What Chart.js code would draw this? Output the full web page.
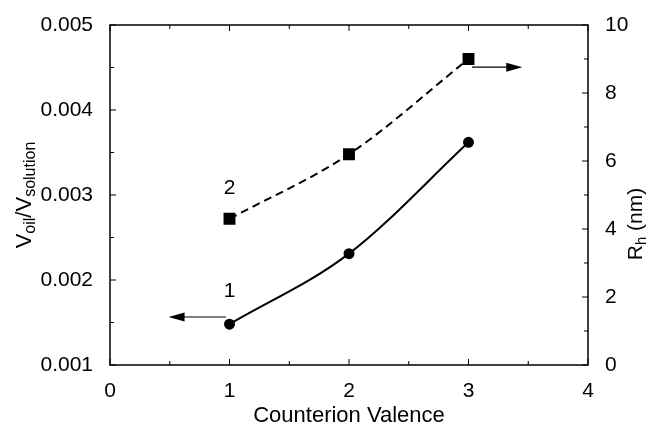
<!DOCTYPE html>
<html>
<head>
<meta charset="utf-8">
<script src="https://cdn.jsdelivr.net/npm/chart.js@4.4.1/dist/chart.umd.min.js"></script>
<style>
  html, body { margin: 0; padding: 0; background: #fff; }
  #wrap { width: 648px; height: 425px; position: relative; }
</style>
</head>
<body>
<div id="wrap"><canvas id="chart"></canvas></div>
<script>
// values
const valence = [1, 2, 3];
const volumeRatio = [0.00148, 0.00231, 0.00362];   // curve 1, left axis
const radiusNm = [4.3, 6.2, 9.0];                   // curve 2, right axis
const xTicks = [0, 1, 2, 3, 4];
const leftTicks = [0.001, 0.002, 0.003, 0.004, 0.005];
const rightTicks = [0, 2, 4, 6, 8, 10];

// annotation arrows/labels in data units
const arrowLeft = { from: 0.97, to: 0.49, y: 0.001565, axis: 'y' };
const arrowRight = { from: 3.03, to: 3.45, y: 8.76, axis: 'y2' };
const curveLabels = [
    { text: '1', x: 1, y: 0.00187, axis: 'y' },
    { text: '2', x: 1, y: 5.2, axis: 'y2' }
];

const FONT = '"Liberation Sans", Arial, Helvetica, sans-serif';
const tickFont = { family: FONT, size: 21 };

function toPts(xs, ys) {
    return xs.map((x, i) => ({ x: x, y: ys[i] }));
}

const framePlugin = {
    id: 'frame',
    afterDraw(chart) {
        const ctx = chart.ctx;
        const a = chart.chartArea;
        const sx = chart.scales.x, sy = chart.scales.y, sy2 = chart.scales.y2;
        ctx.save();
        ctx.strokeStyle = '#000';
        ctx.fillStyle = '#000';
        ctx.lineWidth = 1.5;
        ctx.strokeRect(a.left, a.top, a.right - a.left, a.bottom - a.top);

        // inward ticks
        ctx.lineWidth = 1;
        ctx.beginPath();
        for (let v = 0; v <= 4.001; v += 0.5) {
            const px = sx.getPixelForValue(v);
            const len = Math.abs(v - Math.round(v)) < 1e-6 ? 6 : 4;
            ctx.moveTo(px, a.bottom); ctx.lineTo(px, a.bottom - len);
            ctx.moveTo(px, a.top); ctx.lineTo(px, a.top + len);
        }
        for (let i = 0; i <= 8; i++) {
            const v = 0.001 + i * 0.0005;
            const py = sy.getPixelForValue(v);
            const len = i % 2 === 0 ? 6 : 4;
            ctx.moveTo(a.left, py); ctx.lineTo(a.left + len, py);
        }
        for (let v = 0; v <= 10; v++) {
            const py = sy2.getPixelForValue(v);
            const len = v % 2 === 0 ? 6 : 4;
            ctx.moveTo(a.right, py); ctx.lineTo(a.right - len, py);
        }
        ctx.stroke();

        // arrows
        [arrowLeft, arrowRight].forEach(ar => {
            const ys = chart.scales[ar.axis];
            const x0 = sx.getPixelForValue(ar.from);
            const x1 = sx.getPixelForValue(ar.to);
            const py = ys.getPixelForValue(ar.y);
            const dir = Math.sign(x1 - x0);
            ctx.lineWidth = 1.2;
            ctx.beginPath();
            ctx.moveTo(x0, py); ctx.lineTo(x1 - dir * 10, py);
            ctx.stroke();
            ctx.beginPath();
            ctx.moveTo(x1, py);
            ctx.lineTo(x1 - dir * 16, py - 4.5);
            ctx.lineTo(x1 - dir * 16, py + 4.5);
            ctx.closePath();
            ctx.fill();
        });

        // curve labels
        ctx.font = '21px ' + FONT;
        ctx.textAlign = 'center';
        ctx.textBaseline = 'middle';
        curveLabels.forEach(l => {
            ctx.fillText(l.text, sx.getPixelForValue(l.x), chart.scales[l.axis].getPixelForValue(l.y));
        });

        // x title
        ctx.font = '22px ' + FONT;
        ctx.textBaseline = 'alphabetic';
        ctx.fillText('Counterion Valence', (a.left + a.right) / 2, 422);

        // rotated titles with subscripts
        function drawRotated(parts, cy, baseX) {
            ctx.save();
            ctx.translate(baseX, cy);
            ctx.rotate(-Math.PI / 2);
            ctx.textAlign = 'left';
            ctx.textBaseline = 'alphabetic';
            let total = 0;
            parts.forEach(p => { ctx.font = p.size + 'px ' + FONT; total += ctx.measureText(p.t).width; });
            let pos = -total / 2;
            parts.forEach(p => {
                ctx.font = p.size + 'px ' + FONT;
                ctx.fillText(p.t, pos, p.shift);
                pos += ctx.measureText(p.t).width;
            });
            ctx.restore();
        }
        drawRotated([
            { t: 'V', size: 22, shift: 0 },
            { t: 'oil', size: 16, shift: 4 },
            { t: '/V', size: 22, shift: 0 },
            { t: 'solution', size: 16, shift: 4 }
        ], 195, 31);
        drawRotated([
            { t: 'R', size: 21, shift: 0 },
            { t: 'h', size: 15, shift: 4 },
            { t: ' (nm)', size: 21, shift: 0 }
        ], 224, 642);
        ctx.restore();
    }
};

new Chart(document.getElementById('chart'), {
    type: 'line',
    data: {
        datasets: [{
            label: 'Voil/Vsolution',
            data: toPts(valence, volumeRatio),
            yAxisID: 'y',
            borderColor: '#000',
            backgroundColor: '#000',
            borderWidth: 2,
            pointStyle: 'circle',
            pointRadius: 4.5,
            cubicInterpolationMode: 'monotone',
            fill: false
        }, {
            label: 'Rh (nm)',
            data: toPts(valence, radiusNm),
            yAxisID: 'y2',
            borderColor: '#000',
            backgroundColor: '#000',
            borderWidth: 2,
            borderDash: [8, 5],
            pointStyle: 'rect',
            pointRadius: 7,
            cubicInterpolationMode: 'monotone',
            fill: false
        }]
    },
    options: {
        responsive: true,
        maintainAspectRatio: false,
        animation: false,
        layout: { padding: { top: 25, left: 0, right: 0, bottom: 0 } },
        plugins: { legend: { display: false }, tooltip: { enabled: false } },
        scales: {
            x: {
                type: 'linear',
                min: 0, max: 4,
                afterBuildTicks: s => { s.ticks = xTicks.map(v => ({ value: v })); },
                ticks: { color: '#000', font: tickFont, padding: 6 },
                grid: { display: false },
                border: { display: false },
                afterFit: s => { s.height = 60; }
            },
            y: {
                position: 'left',
                min: 0.001, max: 0.005,
                afterBuildTicks: s => { s.ticks = leftTicks.map(v => ({ value: v })); },
                ticks: { color: '#000', font: tickFont, padding: 9, callback: v => v.toFixed(3) },
                grid: { display: false },
                border: { display: false },
                afterFit: s => { s.width = 110; }
            },
            y2: {
                position: 'right',
                min: 0, max: 10,
                afterBuildTicks: s => { s.ticks = rightTicks.map(v => ({ value: v })); },
                ticks: { color: '#000', font: tickFont, padding: 9 },
                grid: { display: false },
                border: { display: false },
                afterFit: s => { s.width = 60; }
            }
        }
    },
    plugins: [framePlugin]
});
</script>
</body>
</html>
